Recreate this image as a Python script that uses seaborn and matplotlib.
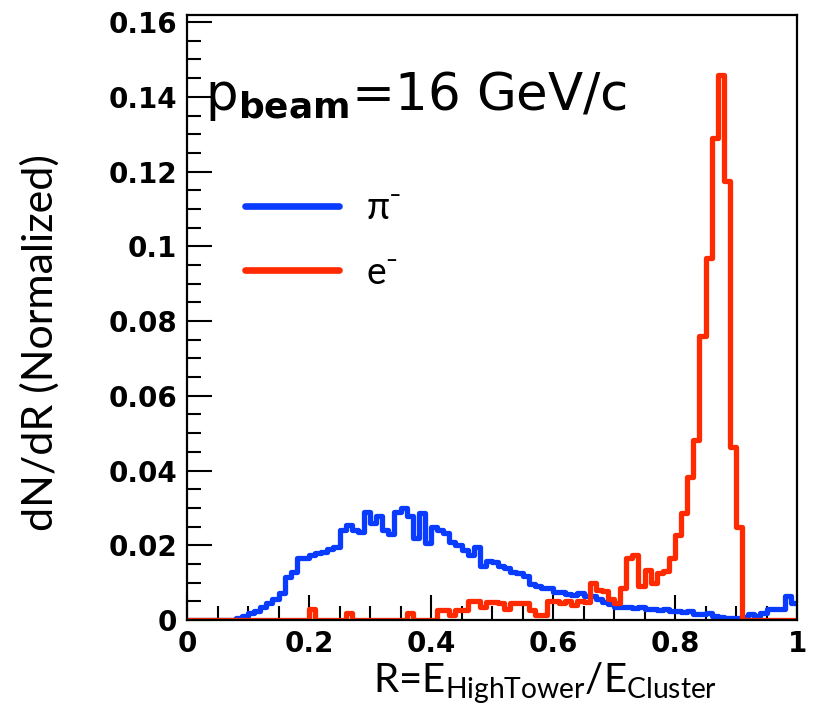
import numpy as np
import matplotlib
matplotlib.use('Agg')
import matplotlib.pyplot as plt
from matplotlib.lines import Line2D
from matplotlib.ticker import MultipleLocator, FuncFormatter
import seaborn as sns

# 100 bins of R between 0 and 1
n_bins = 100
r_lo, r_hi = 0.0, 1.0
bin_centers = (np.arange(n_bins) + 0.5) / n_bins

# pi- distribution (normalized), one value per bin
pion = [
    0, 0, 0, 0, 0, 0, 0, 0, 0.0005, 0.001,
    0.0019, 0.0025, 0.0035, 0.0045, 0.0055, 0.0072, 0.0115, 0.0129, 0.0166, 0.0166,
    0.0175, 0.0178, 0.0183, 0.019, 0.0195, 0.024, 0.0255, 0.024, 0.0235, 0.029,
    0.026, 0.0277, 0.024, 0.023, 0.029, 0.030, 0.0277, 0.022, 0.0285, 0.0206,
    0.025, 0.024, 0.0233, 0.021, 0.020, 0.0188, 0.0174, 0.0196, 0.0145, 0.0158,
    0.0155, 0.0145, 0.0138, 0.0128, 0.0125, 0.0118, 0.0095, 0.0092, 0.0085, 0.0085,
    0.0075, 0.0075, 0.007, 0.0068, 0.0072, 0.0065, 0.0065, 0.0055, 0.0048, 0.0042,
    0.0035, 0.0035, 0.0035, 0.0032, 0.0035, 0.003, 0.003, 0.0028, 0.003, 0.0025,
    0.0025, 0.0022, 0.0025, 0.0015, 0.0015, 0.0018, 0.0012, 0.0008, 0.0005, 0.0005,
    0.0005, 0.0008, 0.0015, 0.0012, 0.0018, 0.003, 0.003, 0.003, 0.0065, 0.0045,
]

# e- distribution (normalized)
electron = [
    0, 0, 0, 0, 0, 0, 0, 0, 0, 0,
    0, 0, 0, 0, 0, 0, 0, 0, 0, 0,
    0.003, 0, 0, 0, 0, 0, 0.002, 0, 0, 0,
    0, 0, 0, 0, 0, 0, 0.002, 0, 0, 0,
    0, 0.0027, 0.0027, 0.0014, 0.0027, 0.0027, 0.005, 0.005, 0.0035, 0.0048,
    0.0048, 0.0045, 0.003, 0.0045, 0.0045, 0.0045, 0.0028, 0.0014, 0.0014, 0.005,
    0.005, 0.0045, 0.005, 0.004, 0.005, 0.0048, 0.010, 0.008, 0.0078, 0.0055,
    0.0045, 0.0086, 0.0165, 0.0175, 0.009, 0.0135, 0.010, 0.0125, 0.013, 0.0165,
    0.0228, 0.0287, 0.0384, 0.0483, 0.076, 0.097, 0.129, 0.1458, 0.1176, 0.0464,
    0.025, 0, 0, 0, 0, 0, 0, 0, 0, 0,
]

series_labels = ['π⁻', 'e⁻']
colors = ['#0a3cff', '#ff2a00']

sns.set_style('ticks')
plt.rcParams.update({'text.color': 'black', 'axes.labelcolor': 'black',
                     'xtick.color': 'black', 'ytick.color': 'black'})
label_font = ['Lato', 'DejaVu Sans']

fig = plt.figure(figsize=(8.13, 7.21), dpi=100)
ax = fig.add_axes([187 / 813, 101 / 721, 610 / 813, 605 / 721])

for vals, col in zip([pion, electron], colors):
    sns.histplot(x=bin_centers, weights=vals, bins=n_bins, binrange=(r_lo, r_hi),
                 element='step', fill=False, color=col, linewidth=3.8, ax=ax)

ax.set_xlim(0, 1)
ax.set_ylim(0, 0.1619)

# ROOT-like axes: ticks inside, only left and bottom
ax.xaxis.set_major_locator(MultipleLocator(0.2))
ax.xaxis.set_minor_locator(MultipleLocator(0.05))
ax.yaxis.set_major_locator(MultipleLocator(0.02))
ax.yaxis.set_minor_locator(MultipleLocator(0.005))
fmt = FuncFormatter(lambda v, p: f'{v:g}')
ax.xaxis.set_major_formatter(fmt)
ax.yaxis.set_major_formatter(fmt)
ax.tick_params(which='both', direction='in', top=False, right=False, width=1.5, color='black')
ax.tick_params(which='major', length=18, labelsize=20, pad=7)
ax.tick_params(which='minor', length=10)
for lab in ax.get_xticklabels() + ax.get_yticklabels():
    lab.set_fontweight('bold')
for s in ax.spines.values():
    s.set_linewidth(1.6)
    s.set_color('black')

ax.set_ylabel('dN/dR (Normalized)', fontsize=31, family=label_font, va='center')
ax.yaxis.set_label_coords(-0.241, 0.458)
ax.set_xlabel(r'R=E$_{\mathregular{HighTower}}$/E$_{\mathregular{Cluster}}$',
              fontsize=29, family=label_font, va='baseline')
ax.xaxis.set_label_coords(0.587, -0.119)

ax.text(0.03, 0.1364, r'p$_{\mathbf{beam}}$=16 GeV/c', transform=ax.get_yaxis_transform(),
        fontsize=37, va='baseline', ha='left')

handles = [Line2D([], [], color=c, lw=4.8) for c in colors]
ax.legend(handles, series_labels, loc='upper left', bbox_to_anchor=(0.095, 0.71),
          frameon=False, borderpad=0, borderaxespad=0, handlelength=2.5,
          handletextpad=0.75, labelspacing=0.75, prop={'family': label_font, 'size': 27})

plt.savefig('out.png', dpi=100)
